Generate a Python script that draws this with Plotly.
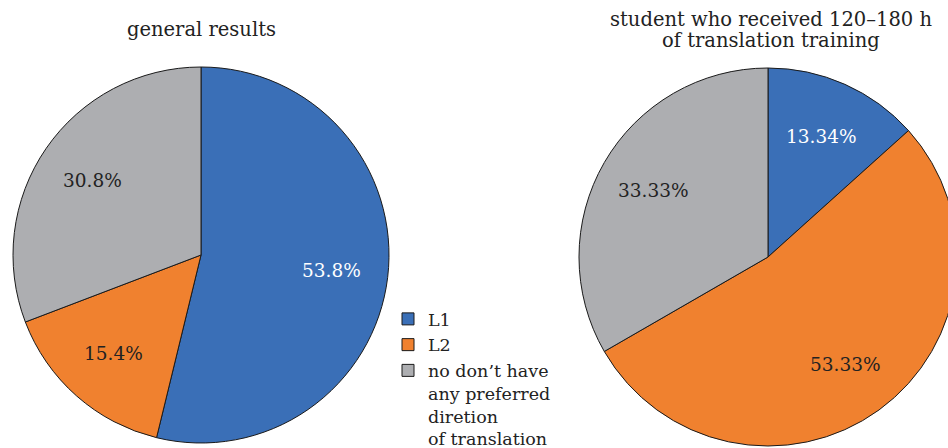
import math
import plotly.graph_objects as go

labels = ["L1", "L2", "no don\u2019t have<br>any preferred<br>diretion<br>of translation"]
general_values = [53.8, 15.4, 30.8]
trained_values = [13.34, 53.33, 33.33]
titles = ["general results", "student who received 120\u2013180 h<br>of translation training"]

colors = ["#3a6fb7", "#f0812f", "#adaeb1"]
text_colors = ["white", "#222222", "#222222"]
FONT = "DejaVu Serif"

W, H = 962, 448
pies = [
    dict(values=general_values, cx=201, cy=255, r=188, title=titles[0]),
    dict(values=trained_values, cx=768, cy=257, r=189, title=titles[1]),
]

def dom(cx, cy, r):
    return dict(x=[(cx - r) / W, (cx + r) / W], y=[(H - cy - r) / H, (H - cy + r) / H])

fig = go.Figure()
for p in pies:
    fig.add_trace(go.Pie(
        labels=labels, values=p["values"], sort=False, direction="clockwise", rotation=0,
        marker=dict(colors=colors, line=dict(color="#1a1a1a", width=1)),
        textinfo="none", domain=dom(p["cx"], p["cy"], p["r"]),
        hoverinfo="label+value", showlegend=True,
    ))
    # slice labels at the mid-angle of each slice
    total = sum(p["values"])
    cum = 0.0
    for v, tc in zip(p["values"], text_colors):
        mid = (cum + v / 2) / total * 2 * math.pi
        cum += v
        d = 0.7 * p["r"]
        x = p["cx"] + d * math.sin(mid)
        y = p["cy"] - d * math.cos(mid)
        fig.add_annotation(text=f"{v}%", x=x / W, y=1 - y / H, xref="paper", yref="paper",
                           showarrow=False, font=dict(family=FONT, size=18.5, color=tc),
                           xanchor="center", yanchor="middle")
    # title lines
    lines = p["title"].split("<br>")
    n = len(lines)
    for i, line in enumerate(lines):
        ty = 30 + (i - (n - 1) / 2) * 22
        fig.add_annotation(text=line, x=(p["cx"] + (3 if n > 1 else 0)) / W, y=1 - ty / H,
                           xref="paper", yref="paper", showarrow=False,
                           font=dict(family=FONT, size=19.5, color="#222"),
                           xanchor="center", yanchor="middle")

fig.update_layout(
    width=W, height=H,
    margin=dict(l=0, r=0, t=0, b=0, autoexpand=False),
    paper_bgcolor="white", plot_bgcolor="white",
    font=dict(family=FONT, size=17.5, color="#222"),
    legend=dict(x=388 / W, y=-9 / H, xanchor="left", yanchor="bottom", valign="top",
                font=dict(family=FONT, size=17.5, color="#222"),
                itemwidth=30, tracegroupgap=0, bgcolor="rgba(0,0,0,0)"),
)

fig.write_html("out.html")
